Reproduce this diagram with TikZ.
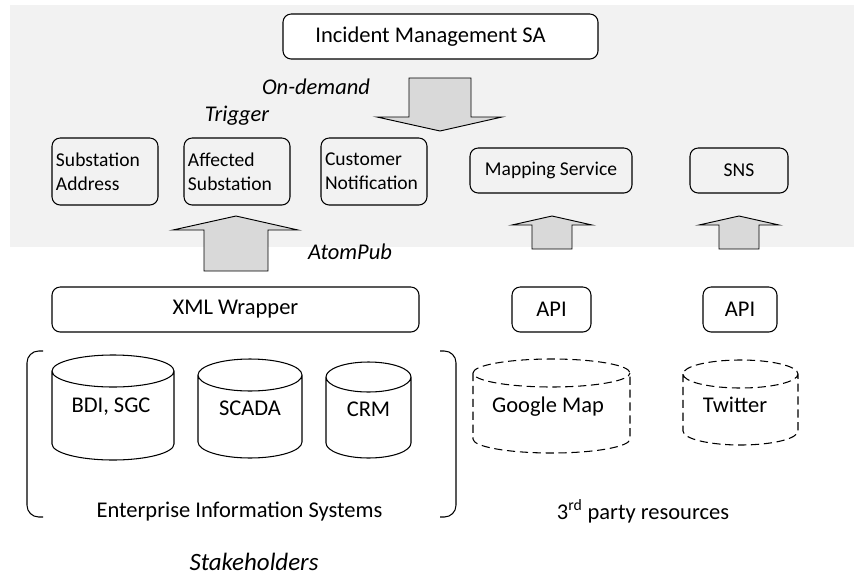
\documentclass[tikz,border=0pt]{standalone}
\usepackage{fontspec}
\setmainfont{Carlito}
\usetikzlibrary{positioning}

\definecolor{panelgray}{HTML}{F2F2F2}
\definecolor{arrowgray}{HTML}{D9D9D9}

% data store: [style] centre x, half width, top y, bottom y, rim radius (px)
\newcommand{\drum}[6][]{%
  \draw[line width=0.9pt,#1] (#2-#3,#4+#6) -- (#2-#3,#5-#6)
    arc[start angle=180,end angle=360,x radius=#3*0.03cm,y radius=#6*0.03cm]
    -- (#2+#3,#4+#6)
    arc[start angle=0,end angle=180,x radius=#3*0.03cm,y radius=#6*0.03cm]
    arc[start angle=180,end angle=360,x radius=#3*0.03cm,y radius=#6*0.03cm];
}

\begin{document}
\begin{tikzpicture}[x=0.03cm,y=-0.03cm]
        \tikzset{
            box/.style={draw,line width=0.9pt,rounded corners=7pt,inner sep=0pt,
                font=\fontsize{19.2pt}{23pt}\selectfont},
            small/.style={font=\fontsize{16.7pt}{20.4pt}\selectfont},
            twoline/.style={box,small,align=left,text width=2.94cm,inner xsep=0.12cm,minimum height=2.01cm},
            fat/.style={draw,line width=0.8pt,fill=arrowgray,line join=miter},
            lbl/.style={inner sep=0pt,font=\fontsize{19.2pt}{23pt}\selectfont},
            tag/.style={lbl,font=\fontsize{19.2pt}{23pt}\selectfont\itshape},
            ext/.style={dash pattern=on 7pt off 4pt}
        }
        \useasboundingbox (0,0) rectangle (854,577);
        \fill[panelgray] (10,5) rectangle (854,247);
        % services
        \node[box,fill=white,minimum width=9.45cm,minimum height=1.35cm] (incident) at (440.5,36.5) {Incident Management SA\hspace*{0.6cm}};
        \node[twoline] (subaddr) at (105,171.5) {Substation\\Address};
        \node[twoline] (affsub) at (237,171.5) {Affected\\Substation};
        \node[twoline] (custnot) at (374,171.5) {Customer\\Notification};
        \node[box,small,minimum width=4.86cm,minimum height=1.35cm] (mapsvc) at (551,170.5) {Mapping Service};
        \node[box,small,minimum width=2.94cm,minimum height=1.35cm] (sns) at (739,170.5) {SNS};
        \node[box,minimum width=11.01cm,minimum height=1.35cm] (xmlwrap) at (235.5,309.5) {XML Wrapper};
        \node[box,minimum width=2.37cm,minimum height=1.35cm] (apimap) at (551.5,309.5) {API};
        \node[box,minimum width=2.22cm,minimum height=1.35cm] (apitw) at (740,309.5) {API};
        % block arrows
        \draw[fat] (409,78) -- (471,78) -- (471,117) -- (502,117) -- (440,131) -- (377,117) -- (409,117) -- cycle;
        \draw[fat] (204,271) -- (204,230) -- (173,230) -- (236,216) -- (298,230) -- (268,230) -- (268,271) -- cycle;
        \draw[fat] (532,249) -- (532,225) -- (512,225) -- (552,216) -- (592,225) -- (572,225) -- (572,249) -- cycle;
        \draw[fat] (719,249) -- (719,225) -- (699,225) -- (739,216) -- (779,225) -- (759,225) -- (759,249) -- cycle;
        \node[tag] (ondemand) at (316,87) {On-demand};
        \node[tag,above=0.36cm of affsub] (trigger) {Trigger};
        \node[tag] (atompub) at (350,252) {AtomPub};
        % data sources
        \drum{113}{61}{355}{460}{16}
        \drum{250}{52}{359}{458}{16}
        \drum{368.5}{42.5}{362}{458}{15}
        \drum[ext]{551.5}{78.5}{359}{453}{14}
        \drum[ext]{740.5}{57.5}{360}{445}{14}
        \node[lbl] (bdi) at (111,407) {BDI, SGC};
        \node[lbl] (scada) at (250,408) {SCADA};
        \node[lbl] (crm) at (368.5,409) {CRM};
        \node[lbl] (gmap) at (548,407) {Google Map};
        \node[lbl] (twitter) at (735,405) {Twitter};
        \draw[line width=0.9pt,rounded corners=10pt] (43,351) -- (27,351) -- (27,517) -- (43,517);
        \draw[line width=0.9pt,rounded corners=10pt] (440,351) -- (456,351) -- (456,517) -- (440,517);
        \node[lbl] (eis) at (239.5,512) {Enterprise Information Systems};
        \node[lbl] (thirdparty) at (643,511) {3\textsuperscript{rd} party resources};
        \node[tag,font=\fontsize{21.3pt}{25pt}\selectfont\itshape] (stakeholders) at (254,562) {Stakeholders};
\end{tikzpicture}
\end{document}
